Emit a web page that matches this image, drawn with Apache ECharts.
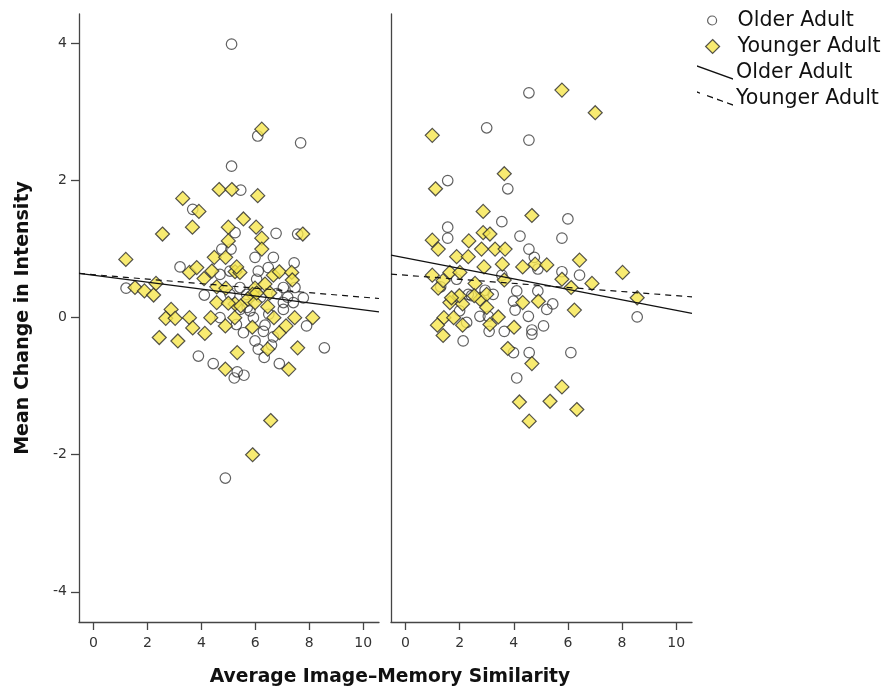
<!DOCTYPE html>
<html>
<head>
<meta charset="utf-8">
<script src="https://cdn.jsdelivr.net/npm/echarts@6/dist/echarts.min.js"></script>
<style>
  html, body { margin: 0; padding: 0; background: #fff; }
  #chart { width: 893px; height: 690px; }
</style>
</head>
<body>
<div id="chart"></div>
<script>
// Tick positions on both axes
const xTicks = [0, 2, 4, 6, 8, 10];
const yTicks = [-4, -2, 0, 2, 4];

// Left panel: older adults [similarity, change]
const olderLeft = [
  [5.12,3.99],[6.09,2.65],[7.68,2.55],[5.12,2.21],[5.46,1.86],[3.68,1.58],[5.25,1.24],[6.77,1.23],
  [7.57,1.22],[4.76,1.00],[5.10,1.00],[5.99,0.88],[6.67,0.88],[7.44,0.80],[3.21,0.74],[1.21,0.43],
  [4.11,0.33],[7.78,0.29],[7.04,0.44],[7.47,0.44],[6.05,0.56],[5.43,0.44],[5.06,0.34],[5.68,0.34],
  [7.04,0.22],[7.41,0.22],[7.04,0.12],[5.43,0.12],[5.06,0.68],[6.48,0.73],[4.69,0.63],[3.89,-0.56],
  [4.44,-0.67],[5.22,-0.88],[5.33,-0.79],[5.58,-0.84],[4.89,-2.34],[8.56,-0.44],[6.89,-0.67],[6.33,-0.58],
  [6.11,-0.46],[5.56,-0.22],[5.99,-0.34],[5.93,0.00],[6.36,-0.11],[6.67,-0.28],[7.90,-0.12],[4.69,0.00],
  [5.80,0.10],[6.11,0.68],[5.70,0.15],[6.50,0.05],[6.80,0.35],[5.30,-0.10],[6.30,-0.20],[7.20,0.30],
  [6.60,-0.40],[6.20,0.30]
];

// Left panel: younger adults
const youngerLeft = [
  [1.20,0.85],[1.54,0.44],[1.89,0.39],[2.23,0.33],[2.32,0.50],[2.56,1.22],[3.31,1.74],[3.91,1.55],
  [3.67,1.32],[4.66,1.87],[5.13,1.87],[6.09,1.78],[6.24,2.75],[5.56,1.44],[5.00,1.32],[6.03,1.32],
  [5.00,1.12],[6.24,1.16],[6.24,1.00],[7.76,1.22],[4.48,0.88],[4.90,0.88],[3.56,0.66],[3.83,0.73],
  [4.10,0.57],[4.39,0.68],[5.25,0.67],[5.43,0.66],[6.67,0.62],[6.89,0.67],[7.35,0.66],[7.37,0.55],
  [4.57,0.45],[4.91,0.43],[5.99,0.43],[6.36,0.49],[6.54,0.36],[5.90,0.34],[5.72,0.27],[5.25,0.20],
  [4.57,0.22],[5.00,0.21],[5.46,0.17],[5.99,0.22],[6.46,0.16],[2.88,0.12],[2.68,-0.01],[3.03,-0.01],
  [3.56,0.00],[3.68,-0.15],[4.13,-0.23],[4.35,0.00],[4.89,-0.12],[5.24,0.00],[2.44,-0.29],[3.13,-0.34],
  [5.33,-0.51],[4.89,-0.75],[5.89,-0.14],[6.46,-0.46],[6.69,0.00],[6.89,-0.22],[7.14,-0.12],[7.46,0.00],
  [7.57,-0.44],[7.24,-0.75],[8.13,0.00],[6.57,-1.50],[5.90,-2.00],[5.31,0.74],[6.05,0.36]
];

// Right panel: older adults
const olderRight = [
  [4.56,3.28],[3.00,2.77],[4.56,2.59],[1.56,2.00],[3.78,1.88],[1.56,1.32],[1.56,1.16],[3.56,1.40],
  [4.23,1.19],[5.78,1.16],[6.00,1.44],[4.56,1.00],[4.76,0.88],[4.89,0.71],[5.78,0.67],[6.43,0.62],
  [3.56,0.62],[1.89,0.56],[4.11,0.39],[4.89,0.39],[3.24,0.34],[2.94,0.40],[2.32,0.34],[3.99,0.24],
  [5.44,0.20],[8.56,0.01],[4.05,0.11],[4.54,0.02],[5.22,0.12],[2.75,0.02],[3.06,0.02],[2.13,-0.34],
  [3.09,-0.20],[3.65,-0.20],[3.99,-0.51],[4.11,-0.88],[2.26,-0.07],[2.44,0.32],[4.57,-0.51],[4.67,-0.24],
  [4.67,-0.18],[5.10,-0.12],[6.11,-0.51],[1.30,0.45],[2.00,0.10]
];

// Right panel: younger adults
const youngerRight = [
  [0.99,2.66],[5.78,3.32],[7.01,2.99],[3.65,2.10],[1.11,1.88],[2.87,1.55],[4.67,1.49],[0.99,1.13],
  [1.21,1.00],[2.34,1.12],[2.87,1.24],[3.12,1.22],[2.81,1.00],[3.31,1.00],[3.68,1.00],[1.89,0.89],
  [2.32,0.89],[2.90,0.74],[3.58,0.78],[4.33,0.74],[4.79,0.78],[5.22,0.77],[6.43,0.84],[8.02,0.66],
  [0.99,0.62],[1.64,0.66],[2.01,0.66],[1.21,0.43],[1.39,0.54],[2.57,0.50],[3.65,0.55],[5.78,0.56],
  [6.12,0.44],[6.89,0.50],[8.56,0.29],[1.64,0.22],[2.11,0.20],[1.99,0.32],[2.75,0.27],[3.00,0.34],
  [4.33,0.22],[4.91,0.24],[6.24,0.11],[1.42,0.00],[1.78,0.00],[3.00,0.15],[3.43,0.01],[1.70,0.29],
  [2.54,0.32],[3.12,-0.10],[4.01,-0.14],[1.18,-0.11],[1.39,-0.26],[2.11,-0.11],[3.78,-0.45],[4.21,-1.23],
  [4.67,-0.67],[5.78,-1.01],[5.34,-1.22],[6.33,-1.34],[4.57,-1.51]
];

// Linear fits per panel: [intercept, slope]
const fitOlderLeft = [0.618, -0.0504];
const fitYoungerLeft = [0.628, -0.0329];
const fitOlderRight = [0.871, -0.0765];
const fitYoungerRight = [0.619, -0.0298];

const X_MIN = -0.535, X_MAX = 10.585;
const Y_MIN = -4.44, Y_MAX = 4.43;

function fitLine(coef) {
  return [X_MIN, X_MAX].map(x => [x, coef[0] + coef[1] * x]);
}

const FONT = 'DejaVu Sans';
const AXIS_COLOR = '#454545';
const DIAMOND_FILL = '#F6E64E';

function xAxis(grid) {
  return {
    type: 'value', gridIndex: grid, min: X_MIN, max: X_MAX,
    axisLine: { show: true, onZero: false, lineStyle: { color: AXIS_COLOR, width: 1.3 } },
    axisTick: { show: true, length: 8, customValues: xTicks, lineStyle: { color: AXIS_COLOR, width: 1.3 } },
    axisLabel: { customValues: xTicks, fontSize: 14, color: '#333', fontFamily: FONT, margin: 14 },
    splitLine: { show: false }
  };
}

function scatter(name, data, grid, kind) {
  const older = kind === 'older';
  return {
    type: 'scatter', name, data, xAxisIndex: grid, yAxisIndex: grid,
    symbol: older ? 'circle' : 'diamond',
    symbolSize: older ? 10.5 : 14,
    z: older ? 2 : 3,
    silent: true,
    itemStyle: older
      ? { color: 'rgba(255,255,255,0)', borderColor: '#3a3a3a', borderWidth: 1.2 }
      : { color: DIAMOND_FILL, borderColor: '#2a2a2a', borderWidth: 1.2 }
  };
}

function fit(name, coef, grid, dashed) {
  return {
    type: 'line', name, data: fitLine(coef), xAxisIndex: grid, yAxisIndex: grid,
    symbol: 'none', silent: true, z: 5,
    itemStyle: { color: '#111' },
    lineStyle: { color: '#111', width: 1.2, type: dashed ? [6, 5] : 'solid' }
  };
}

// Legend line icons drawn as thin slanted bars
const solidIcon = 'path://M0,0L36,13L36,14.4L0,1.4Z';
const dashedIcon = 'path://' + [[0, 3], [10, 16], [20, 26], [30, 36]].map(([a, b]) => {
  const ya = 13 * a / 36, yb = 13 * b / 36;
  return `M${a},${ya}L${b},${yb}L${b},${yb + 1.4}L${a},${ya + 1.4}Z`;
}).join('');

const legendText = { fontSize: 20.6, color: '#111', fontFamily: FONT };

const option = {
  animation: false,
  title: {
    text: 'Average Image\u2013Memory Similarity',
    left: 385, top: 663, textAlign: 'center',
    textStyle: { fontSize: 18.7, fontWeight: 'bold', color: '#111', fontFamily: FONT }
  },
  legend: [
    { data: [{ name: 'Older Adult', icon: 'circle' }], left: 702, top: 5, selectedMode: false,
      itemWidth: 9, itemHeight: 9, itemStyle: { borderWidth: 1.2 },
      textStyle: Object.assign({ padding: [0, 0, 0, 16] }, legendText) },
    { data: [{ name: 'Younger Adult', icon: 'diamond' }], left: 700, top: 31, selectedMode: false,
      itemWidth: 14, itemHeight: 14, itemStyle: { borderWidth: 1.2 },
      textStyle: Object.assign({ padding: [0, 0, 0, 13] }, legendText) },
    { data: [{ name: 'Older Adult fit', icon: solidIcon }], left: 692, top: 57, selectedMode: false,
      itemWidth: 36, itemHeight: 14.4, itemStyle: { borderWidth: 0 },
      formatter: n => n.replace(' fit', ''), textStyle: Object.assign({ padding: [0, 0, 0, -2] }, legendText) },
    { data: [{ name: 'Younger Adult fit', icon: dashedIcon }], left: 692, top: 83, selectedMode: false,
      itemWidth: 36, itemHeight: 14.4, itemStyle: { borderWidth: 0 },
      formatter: n => n.replace(' fit', ''), textStyle: Object.assign({ padding: [0, 0, 0, -2] }, legendText) }
  ],
  grid: [
    { left: 79, top: 14, width: 300, height: 608 },
    { left: 391, top: 14, width: 301, height: 608 }
  ],
  xAxis: [xAxis(0), xAxis(1)],
  yAxis: [
    {
      type: 'value', gridIndex: 0, min: Y_MIN, max: Y_MAX,
      name: 'Mean Change in Intensity', nameLocation: 'middle', nameGap: 46,
      nameTextStyle: { fontSize: 19, fontWeight: 'bold', color: '#111', fontFamily: FONT },
      axisLine: { show: true, onZero: false, lineStyle: { color: AXIS_COLOR, width: 1.3 } },
      axisTick: { show: true, length: 8, customValues: yTicks, lineStyle: { color: AXIS_COLOR, width: 1.3 } },
      axisLabel: { customValues: yTicks, fontSize: 14, color: '#333', fontFamily: FONT, margin: 12 },
      splitLine: { show: false }
    },
    {
      type: 'value', gridIndex: 1, min: Y_MIN, max: Y_MAX,
      axisLine: { show: true, onZero: false, lineStyle: { color: AXIS_COLOR, width: 1.3 } },
      axisTick: { show: false }, axisLabel: { show: false }, splitLine: { show: false }
    }
  ],
  series: [
    scatter('Older Adult', olderLeft, 0, 'older'),
    scatter('Younger Adult', youngerLeft, 0, 'younger'),
    scatter('Older Adult', olderRight, 1, 'older'),
    scatter('Younger Adult', youngerRight, 1, 'younger'),
    fit('Older Adult fit', fitOlderLeft, 0, false),
    fit('Younger Adult fit', fitYoungerLeft, 0, true),
    fit('Older Adult fit', fitOlderRight, 1, false),
    fit('Younger Adult fit', fitYoungerRight, 1, true)
  ]
};

const chart = echarts.init(document.getElementById('chart'), null, { renderer: 'canvas' });
chart.setOption(option);
</script>
</body>
</html>
